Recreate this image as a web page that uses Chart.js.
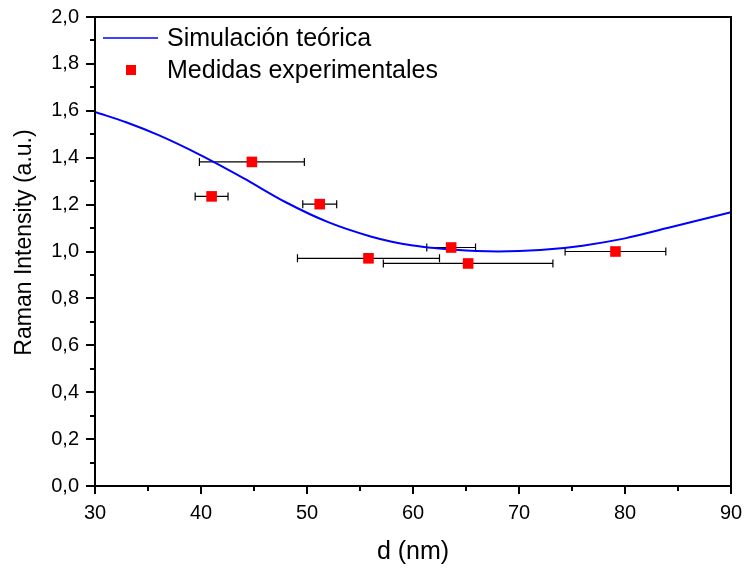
<!DOCTYPE html>
<html>
<head>
<meta charset="utf-8">
<script src="https://cdn.jsdelivr.net/npm/chart.js@4/dist/chart.umd.min.js"></script>
<style>
  html, body { margin: 0; padding: 0; background: #fff; }
  #wrap { width: 747px; height: 570px; }
</style>
</head>
<body>
<div id="wrap"><canvas id="c" width="747" height="570"></canvas></div>
<script>
// Simulated curve: thickness d (nm) vs Raman intensity
const curveX = [30, 33, 36, 40, 44, 48, 52, 56, 58, 60, 62, 64, 66, 68, 72, 76, 80, 84, 88, 90];
const curveY = [1.595, 1.55, 1.496, 1.41, 1.313, 1.21, 1.125, 1.064, 1.042, 1.026, 1.015, 1.007, 1.002, 1.0, 1.006, 1.025, 1.056, 1.1, 1.145, 1.168];

// Measured points with horizontal error (half-width, nm)
const measX = [44.8, 41.0, 51.2, 63.6, 55.8, 65.2, 79.1];
const measY = [1.382, 1.235, 1.202, 1.017, 0.971, 0.949, 1.0];
const measXErr = [4.95, 1.55, 1.6, 2.3, 6.7, 8.0, 4.75];

const seriesLabels = ['Simulación teórica', 'Medidas experimentales'];
const xTitle = 'd (nm)';
const yTitle = 'Raman Intensity (a.u.)';
const xTicks = [30, 40, 50, 60, 70, 80, 90];
const yTicks = [0, 0.2, 0.4, 0.6, 0.8, 1.0, 1.2, 1.4, 1.6, 1.8, 2.0];

const FONT = "'Liberation Sans', Arial, sans-serif";

const curveData = curveX.map((x, i) => ({ x, y: curveY[i] }));
const measData = measX.map((x, i) => ({ x, y: measY[i], err: measXErr[i] }));

// Horizontal error bars drawn under the markers
const errorBars = {
  id: 'errorBars',
  beforeDatasetsDraw(chart) {
    const { ctx, scales: { x, y } } = chart;
    ctx.save();
    ctx.strokeStyle = '#000';
    ctx.lineWidth = 1.2;
    measData.forEach(p => {
      const py = y.getPixelForValue(p.y);
      const x0 = x.getPixelForValue(p.x - p.err);
      const x1 = x.getPixelForValue(p.x + p.err);
      ctx.beginPath();
      ctx.moveTo(x0, py); ctx.lineTo(x1, py);
      ctx.moveTo(x0, py - 4); ctx.lineTo(x0, py + 4);
      ctx.moveTo(x1, py - 4); ctx.lineTo(x1, py + 4);
      ctx.stroke();
    });
    ctx.restore();
  }
};

// Box frame, minor ticks, y title and the in-plot legend
const frame = {
  id: 'frame',
  afterDraw(chart) {
    const { ctx, chartArea: a, scales: { x, y } } = chart;
    ctx.save();
    ctx.strokeStyle = '#000';
    ctx.lineWidth = 2;
    ctx.strokeRect(a.left, a.top, a.right - a.left, a.bottom - a.top);
    ctx.beginPath();
    for (let v = 35; v < 90; v += 10) {
      const px = Math.round(x.getPixelForValue(v));
      ctx.moveTo(px, a.bottom); ctx.lineTo(px, a.bottom + 5);
    }
    for (let k = 1; k < 20; k += 2) {
      const py = Math.round(y.getPixelForValue(k / 10));
      ctx.moveTo(a.left, py); ctx.lineTo(a.left - 5, py);
    }
    ctx.stroke();

    // y axis title
    ctx.save();
    ctx.translate(31, 242.5);
    ctx.rotate(-Math.PI / 2);
    ctx.fillStyle = '#000';
    ctx.font = '23px ' + FONT;
    ctx.textAlign = 'center';
    ctx.textBaseline = 'alphabetic';
    ctx.fillText(yTitle, 0, 0);
    ctx.restore();

    // legend
    const ds = chart.data.datasets;
    ctx.strokeStyle = ds[0].borderColor;
    ctx.lineWidth = 1.6;
    ctx.beginPath();
    ctx.moveTo(103, 38); ctx.lineTo(158, 38);
    ctx.stroke();
    ctx.fillStyle = ds[1].backgroundColor;
    ctx.fillRect(126, 65, 10, 10);
    ctx.fillStyle = '#000';
    ctx.font = '25px ' + FONT;
    ctx.textBaseline = 'middle';
    ctx.textAlign = 'left';
    ctx.fillText(ds[0].label, 167, 39);
    ctx.fillText(ds[1].label, 167, 71);
    ctx.restore();
  }
};

new Chart(document.getElementById('c'), {
  type: 'scatter',
  data: {
    datasets: [
      {
        label: seriesLabels[0],
        data: curveData,
        showLine: true,
        borderColor: '#0000ff',
        backgroundColor: '#0000ff',
        borderWidth: 2,
        pointRadius: 0,
        cubicInterpolationMode: 'monotone',
        order: 2
      },
      {
        label: seriesLabels[1],
        data: measData,
        showLine: false,
        pointStyle: 'rect',
        pointRadius: 7.5,
        borderWidth: 0,
        backgroundColor: '#ff0000',
        borderColor: '#ff0000',
        order: 1
      }
    ]
  },
  options: {
    responsive: false,
    animation: false,
    layout: { padding: { top: 17, right: 16, left: 0, bottom: 0 } },
    plugins: { legend: { display: false }, tooltip: { enabled: false } },
    scales: {
      x: {
        type: 'linear',
        min: 30, max: 90,
        afterFit(s) { s.height = 84; s.paddingLeft = 0; s.paddingRight = 0; },
        afterBuildTicks(s) { s.ticks = xTicks.map(v => ({ value: v })); },
        ticks: { color: '#000', font: { family: FONT, size: 20 }, padding: 7, maxRotation: 0 },
        grid: { drawOnChartArea: false, drawTicks: true, tickLength: 8, color: '#000', lineWidth: 2 },
        border: { display: true, color: '#000', width: 2 },
        title: { display: true, text: xTitle, color: '#000', font: { family: FONT, size: 25 }, padding: { bottom: 3 } }
      },
      y: {
        type: 'linear',
        min: 0, max: 2,
        afterFit(s) { s.width = 95; s.paddingTop = 0; s.paddingBottom = 0; },
        afterBuildTicks(s) { s.ticks = yTicks.map(v => ({ value: v })); },
        ticks: {
          color: '#000', font: { family: FONT, size: 20 }, padding: 7,
          callback: v => v.toFixed(1).replace('.', ',')
        },
        grid: { drawOnChartArea: false, drawTicks: true, tickLength: 9, color: '#000', lineWidth: 2 },
        border: { display: true, color: '#000', width: 2 },
        title: { display: false }
      }
    }
  },
  plugins: [errorBars, frame]
});
</script>
</body>
</html>
